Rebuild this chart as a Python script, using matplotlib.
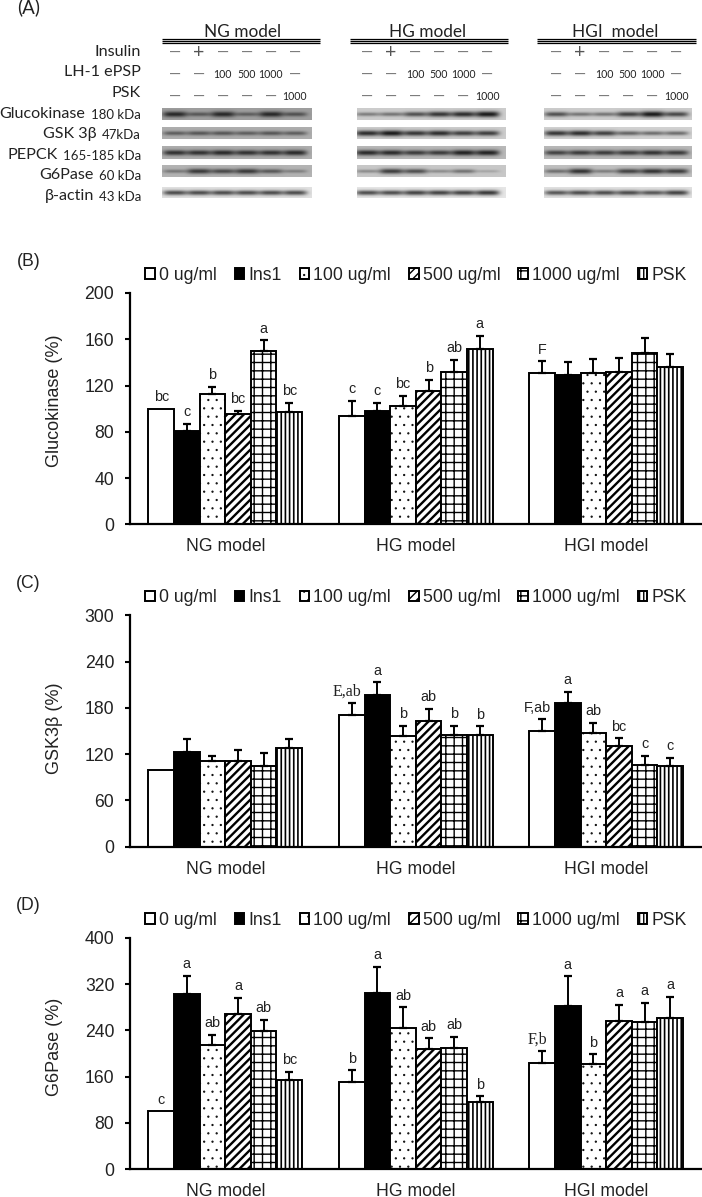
import numpy as np
import matplotlib
matplotlib.use("Agg")
import matplotlib.hatch
import matplotlib.pyplot as plt

W, H = 702, 1197
SANS = "Liberation Sans"
BLOT_FONT = "Lato"
TXT = "#222222"

# the dots in the source are tiny, default hatch dots are far too fat
matplotlib.hatch.SmallFilledCircles.size = 0.05

# ---- bar data, one row per dose, one value per model
groups = ["NG model", "HG model", "HGI model"]
series = ["0 ug/ml", "Ins1", "100 ug/ml", "500 ug/ml", "1000 ug/ml", "PSK"]

gk_vals = [[100, 94, 131], [81, 98, 129], [112.5, 102.5, 131],
           [95, 115, 132], [150, 131.5, 148], [97, 151.5, 136]]
gk_errs = [[0, 13, 10], [6, 7, 11], [6.5, 8.5, 12],
           [3, 10, 12], [9, 10.5, 13], [8, 11.5, 11]]
gk_marks = [["bc", "c", "F"], ["c", "c", ""], ["b", "bc", ""],
            ["bc", "b", ""], ["a", "ab", ""], ["bc", "a", ""]]

gsk_vals = [[100, 171, 150], [123, 197, 186], [110.5, 144, 147.5],
            [111, 163, 131], [104.5, 145, 105.5], [128, 144.5, 104]]
gsk_errs = [[0, 15, 15], [17, 16, 15], [6.5, 13, 13.5],
            [15, 16, 9.5], [16.5, 12, 12.5], [12, 11.5, 11]]
gsk_marks = [["", "E,ab", "F,ab"], ["", "a", "a"], ["", "b", "ab"],
             ["", "ab", "bc"], ["", "b", "c"], ["", "b", "c"]]

g6p_vals = [[100, 151, 183], [303, 304.5, 282.5], [215, 244, 182.5],
            [268, 207, 256], [239, 210, 254], [155, 117, 262]]
g6p_errs = [[0, 20, 21], [31, 45.5, 50.5], [17, 36, 16],
            [28, 19, 28], [19, 18.5, 34], [13, 9, 36]]
g6p_marks = [["c", "b", "F,b"], ["a", "a", "a"], ["ab", "ab", "b"],
             ["a", "ab", "a"], ["ab", "ab", "a"], ["bc", "b", "a"]]

# ---- blot: band darkness per lane, read by eye
blot_names = ["Glucokinase", "GSK 3β", "PEPCK", "G6Pase", "β-actin"]
blot_sizes = ["180 kDa", "47kDa", "165-185 kDa", "60 kDa", "43 kDa"]
ng_bands = [[.9, .55, .9, .5, .9, .6], [.55, .6, .6, .55, .6, .55],
            [.85, .85, .9, .85, .85, .9], [.4, .8, .7, .8, .6, .35],
            [.75, .75, .75, .75, .75, .75]]
hg_bands = [[.45, .5, .7, .85, .9, 1], [.9, 1, .85, .9, .8, .8],
            [.9, .9, .8, .8, .95, .95], [.35, .8, .7, .35, .5, .2],
            [.75, .75, .8, .8, .8, .85]]
hgi_bands = [[.7, .5, .5, .8, 1, .75], [.85, .9, .8, .6, .55, .55],
             [.75, .8, .8, .8, .85, .8], [.5, .85, .4, .75, .85, .8],
             [.7, .75, .75, .75, .7, .8]]
ng_bg = [.62, .68, .68, .70, .88]
hg_bg = [.80, .80, .72, .78, .90]
hgi_bg = [.80, .82, .72, .75, .88]

insulin = ["—", "+", "—", "—", "—", "—"]
lh1 = ["—", "—", "100", "500", "1000", "—"]
psk = ["—", "—", "—", "—", "—", "1000"]


def px_axes(fig, left, top, right, bottom, **kw):
    return fig.add_axes([left / W, 1 - bottom / H, (right - left) / W, (bottom - top) / H], **kw)


def bar_panel(fig, top, bottom, vals, errs, marks, ymax, step, ylabel, label_y):
    ax = px_axes(fig, 130, top, 701.5, bottom)
    x = np.arange(3) + 0.5
    width = 25.6 / 190.5
    styles = [dict(facecolor="white"), dict(facecolor="black"),
              dict(facecolor="white", hatch=".."),
              dict(facecolor="white", hatch="////"),
              dict(facecolor="white", hatch="++"),
              dict(facecolor="white", hatch="||||")]
    hatch_lw = [1, 1, 1, 1.7, 1.0, 1.2]
    for i in range(6):
        pos = x + (i - 2.5) * width
        bars = ax.bar(pos, vals[i], width, edgecolor="black", linewidth=1.4,
                      label=series[i], zorder=2, **styles[i])
        for b in bars:
            b.set_hatch_linewidth(hatch_lw[i])
        for j in range(3):
            if errs[i][j] > 0:
                ax.errorbar(pos[j], vals[i][j], yerr=[[0], [errs[i][j]]], color="black",
                            elinewidth=1.4, capsize=2.6, capthick=1.6, zorder=3)
            label = marks[i][j]
            if label:
                serif = label in ("E,ab", "F,b")
                shift = -3.6 if "," in label else 0
                ax.annotate(label, (pos[j], vals[i][j] + errs[i][j]), xytext=(shift, 8.4),
                            textcoords="offset points", ha="center", va="center", color=TXT,
                            fontsize=11.5 if serif else 10.4,
                            family="Liberation Serif" if serif else SANS)
    ax.set_xlim(0, 3)
    ax.set_ylim(0, ymax)
    ax.set_xticks(x)
    ax.set_xticklabels(groups)
    ax.set_yticks(np.arange(0, ymax + 1, step))
    ax.tick_params(axis="x", length=0, pad=10, labelsize=12.7, labelcolor=TXT)
    ax.tick_params(axis="y", length=3.8, width=1.5, pad=7.5, labelsize=12.7, labelcolor=TXT)
    for side in ["top", "right"]:
        ax.spines[side].set_visible(False)
    ax.spines["left"].set_linewidth(1.6)
    ax.spines["bottom"].set_linewidth(1.6)
    ax.spines["bottom"].set_zorder(5)
    ax.set_ylabel(ylabel, fontsize=13, color=TXT)
    ax.yaxis.set_label_coords(-0.118, label_y)
    ax.legend(loc="lower left", bbox_to_anchor=(15 / 571.5, 1 + 9 / (bottom - top)), ncol=6, frameon=False,
              fontsize=12.7, handlelength=0.55, handleheight=0.55, handletextpad=0.22,
              columnspacing=1.03, borderpad=0, borderaxespad=0, labelcolor=TXT)
    return ax


def draw_blot(ax, x0, x1, y0, y1, lanes, strength, bg):
    xx = np.arange(x0, x1, 1.0)
    yy = np.arange(y0, y1, 0.5)
    img = np.full((len(yy), len(xx)), bg)
    yc = (y0 + y1) / 2
    for c, s in zip(lanes, strength):
        across = np.exp(-((xx - c) / 12.0) ** 4)
        down = np.exp(-((yy - yc) / (1.0 + 1.9 * s)) ** 2)
        img = img - (bg - 0.1) * s * np.outer(down, across)
    ax.imshow(img, cmap="gray", vmin=0, vmax=1, extent=(x0, x1, y1, y0),
              interpolation="bilinear", aspect="auto", zorder=1)


plt.rcParams["font.family"] = SANS
fig = plt.figure(figsize=(W / 100, H / 100), dpi=100)

# ---- panel A, laid out in image pixels
top = px_axes(fig, 0, 0, W, H)
top.axis("off")

starts = [174.6, 367, 556]
blot_x = [(162, 312), (357, 506), (544, 692)]
rule_x = [(162, 320), (350, 508), (537, 696)]
title_x = [243, 427.5, 615.5]
title_txt = ["NG model", "HG model", "HGI  model"]
band_sets = [ng_bands, hg_bands, hgi_bands]
bg_sets = [ng_bg, hg_bg, hgi_bg]
rows_y = [(108, 120), (127, 139), (146, 159), (165, 177), (187, 198)]
name_right = [85, 97, 58, 94, 94]
name_y = [114, 134, 155, 175, 196]

for g in range(3):
    lanes = starts[g] + 24.0 * np.arange(6)
    top.text(title_x[g], 32, title_txt[g], ha="center", va="center", fontsize=12.4,
             family=BLOT_FONT, color=TXT)
    for yr, lw in [(38.7, 0.9), (40.7, 1.0), (42.7, 0.9)]:
        top.plot(rule_x[g], [yr, yr], color="black", lw=lw, solid_capstyle="butt")
    for r in range(5):
        draw_blot(top, blot_x[g][0], blot_x[g][1], rows_y[r][0], rows_y[r][1],
                  lanes, band_sets[g][r], bg_sets[g][r])
    for row, y in [(insulin, 52.7), (lh1, 75), (psk, 97)]:
        for c, s in zip(lanes, row):
            if s == "+":
                top.text(c, y, s, ha="center", va="center", fontsize=14, color="#555555", family=BLOT_FONT)
            elif s == "—":
                top.text(c, y, s, ha="center", va="center", fontsize=11, color="#777777", family=BLOT_FONT)
            else:
                top.text(c, y, s, ha="center", va="center", fontsize=7.6, color=TXT, family=BLOT_FONT)

top.set_xlim(0, W)
top.set_ylim(H, 0)

for label, y in [("Insulin", 52), ("LH-1 ePSP", 72), ("PSK", 93)]:
    top.text(141, y, label, ha="right", va="center", fontsize=11.6, family=BLOT_FONT, color=TXT)
for r in range(5):
    top.text(name_right[r], name_y[r], blot_names[r], ha="right", va="center", fontsize=11.6,
             family=BLOT_FONT, color=TXT)
    top.text(141, name_y[r] + 1, blot_sizes[r], ha="right", va="center", fontsize=9.5,
             family=BLOT_FONT, color=TXT)

top.text(17, 7.5, "(A)", ha="left", va="center", fontsize=13.5, family=BLOT_FONT, color=TXT)
top.text(17, 261, "(B)", ha="left", va="center", fontsize=12.7, color=TXT)
top.text(16, 583, "(C)", ha="left", va="center", fontsize=12.7, color=TXT)
top.text(16, 906, "(D)", ha="left", va="center", fontsize=12.7, color=TXT)

# ---- panels B, C, D
bar_panel(fig, 293, 524.3, gk_vals, gk_errs, gk_marks, 200, 40, "Glucokinase (%)", 0.535)
bar_panel(fig, 615.3, 846.7, gsk_vals, gsk_errs, gsk_marks, 300, 60, "GSK3β (%)", 0.51)
bar_panel(fig, 937.7, 1169.3, g6p_vals, g6p_errs, g6p_marks, 400, 80, "G6Pase (%)", 0.528)

fig.savefig("out.png", dpi=100)
